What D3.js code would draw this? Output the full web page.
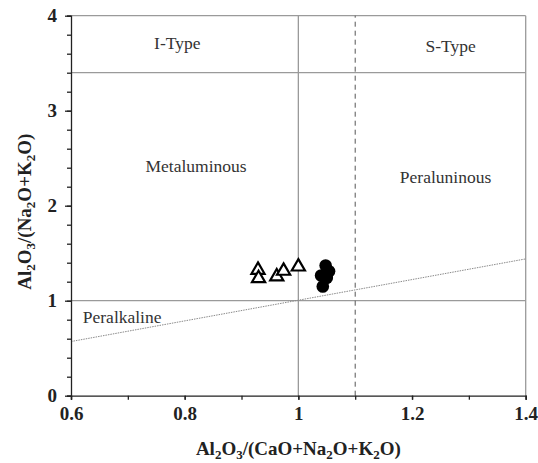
<!DOCTYPE html>
<html>
<head>
<meta charset="utf-8">
<script src="https://cdn.jsdelivr.net/npm/d3@7/dist/d3.min.js"></script>
<style>
  html, body { margin: 0; padding: 0; background: #fff; }
  svg { display: block; }
</style>
</head>
<body>
<svg id="chart" width="538" height="463"></svg>
<script>
// A/CNK vs A/NK discrimination diagram
const xDomain = [0.6, 1.4];
const yDomain = [0, 4];
const xTicks = [0.6, 0.8, 1.0, 1.2, 1.4];
const xMinorTicks = [0.6, 0.7, 0.8, 0.9, 1.0, 1.1, 1.2, 1.3, 1.4];
const yTicks = [0, 1, 2, 3, 4];
const yMinorTicks = [0, 0.2, 0.4, 0.6, 0.8, 1, 1.2, 1.4, 1.6, 1.8, 2, 2.2, 2.4, 2.6, 2.8, 3, 3.2, 3.4, 3.6, 3.8, 4];

// Samples plotted as open triangles
const triangleX = [0.929, 0.930, 0.962, 0.974, 1.000];
const triangleY = [1.323, 1.236, 1.253, 1.313, 1.358];

// Samples plotted as filled circles
const circleX = [1.048, 1.054, 1.040, 1.050, 1.043];
const circleY = [1.370, 1.310, 1.265, 1.240, 1.150];

// Field boundaries
const acnkBoundary = 1.0;     // metaluminous / peraluminous
const isBoundary = 1.1;       // I-type / S-type (dashed)
const ankBoundary = 1.0;      // peralkaline
const typeLine = 3.4;         // header strip line
const diagonalX = [0.6, 1.4];
const diagonalY = [0.57, 1.44];

// Field names
const fieldNames = ["I-Type", "S-Type", "Metaluminous", "Peraluninous", "Peralkaline"];
const fieldX = [0.787, 1.268, 0.82, 1.259, 0.69];
const fieldY = [3.69, 3.66, 2.40, 2.28, 0.81];

const FONT = '"Liberation Serif", "Times New Roman", serif';
const W = 538, H = 463;
const margin = { top: 15.7, right: 12.3, bottom: 67.3, left: 71 };
const svg = d3.select("#chart");

const x = d3.scaleLinear().domain(xDomain).range([margin.left, W - margin.right]);
const y = d3.scaleLinear().domain(yDomain).range([H - margin.bottom, margin.top]);

const grey = "#9a9a9a";

// plot frame: top and right edges
svg.append("line").attr("x1", x(xDomain[0])).attr("x2", x(xDomain[1]))
  .attr("y1", y(yDomain[1])).attr("y2", y(yDomain[1]))
  .attr("stroke", grey).attr("stroke-width", 1.3);
svg.append("line").attr("x1", x(xDomain[1])).attr("x2", x(xDomain[1]))
  .attr("y1", y(yDomain[0])).attr("y2", y(yDomain[1]))
  .attr("stroke", grey).attr("stroke-width", 1.3);

// boundary lines
svg.append("line").attr("x1", x(xDomain[0])).attr("x2", x(xDomain[1]))
  .attr("y1", y(typeLine)).attr("y2", y(typeLine))
  .attr("stroke", grey).attr("stroke-width", 1.3);
svg.append("line").attr("x1", x(xDomain[0])).attr("x2", x(xDomain[1]))
  .attr("y1", y(ankBoundary)).attr("y2", y(ankBoundary))
  .attr("stroke", grey).attr("stroke-width", 1.3);
svg.append("line").attr("x1", x(acnkBoundary)).attr("x2", x(acnkBoundary))
  .attr("y1", y(yDomain[0])).attr("y2", y(yDomain[1]))
  .attr("stroke", grey).attr("stroke-width", 1.3);
svg.append("line").attr("x1", x(isBoundary)).attr("x2", x(isBoundary))
  .attr("y1", y(yDomain[0])).attr("y2", y(yDomain[1]))
  .attr("stroke", "#555").attr("stroke-width", 1).attr("stroke-dasharray", "5,4");

// dotted diagonal
svg.append("line").attr("x1", x(diagonalX[0])).attr("x2", x(diagonalX[1]))
  .attr("y1", y(diagonalY[0])).attr("y2", y(diagonalY[1]))
  .attr("stroke", "#8a8a8a").attr("stroke-width", 1).attr("stroke-dasharray", "1.5,1");

// field labels
svg.append("g").selectAll("text").data(fieldNames).join("text")
  .attr("x", (d, i) => x(fieldX[i])).attr("y", (d, i) => y(fieldY[i]))
  .attr("text-anchor", "middle").attr("dominant-baseline", "middle")
  .style("font-family", FONT)
  .attr("font-size", 17.5).attr("fill", "#333")
  .text(d => d);

// axes
const xAxisMinor = d3.axisBottom(x).tickValues(xMinorTicks).tickSize(4).tickFormat("");
const xAxis = d3.axisBottom(x).tickValues(xTicks).tickSize(4).tickPadding(7)
  .tickFormat(d => d3.format("")(+d.toFixed(1)));
const yAxisMinor = d3.axisLeft(y).tickValues(yMinorTicks).tickSize(4).tickFormat("");
const yAxis = d3.axisLeft(y).tickValues(yTicks).tickSize(6).tickPadding(8).tickFormat(d3.format("d"));

function styleAxis(g) {
  g.select(".domain").attr("stroke", "#222").attr("stroke-width", 1.3);
  g.selectAll(".tick line").attr("stroke", "#222").attr("stroke-width", 1.3);
  g.selectAll("text").style("font-family", FONT)
    .attr("font-weight", "bold").attr("font-size", 19).attr("fill", "#222");
}

svg.append("g").attr("transform", `translate(0,${y(0)})`).call(xAxisMinor).call(styleAxis);
svg.append("g").attr("transform", `translate(0,${y(0)})`).call(xAxis).call(styleAxis)
  .call(g => g.select(".domain").remove());
svg.append("g").attr("transform", `translate(${x(0.6)},0)`).call(yAxisMinor).call(styleAxis);
svg.append("g").attr("transform", `translate(${x(0.6)},0)`).call(yAxis).call(styleAxis)
  .call(g => g.select(".domain").remove());

// axis titles with subscripts
function chemTitle(sel, parts) {
  parts.forEach(p => {
    const ts = sel.append("tspan").text(p.t);
    if (p.sub) ts.attr("font-size", 13).attr("dy", 4);
    else if (p.after) ts.attr("dy", -4);
  });
}
const xTitle = svg.append("text")
  .attr("x", x(1.0)).attr("y", 455).style("font-family", FONT)
  .attr("text-anchor", "middle").attr("font-weight", "bold").attr("font-size", 19).attr("fill", "#222");
chemTitle(xTitle, [
  { t: "Al" }, { t: "2", sub: true }, { t: "O", after: true }, { t: "3", sub: true },
  { t: "/(CaO+Na", after: true }, { t: "2", sub: true }, { t: "O+K", after: true }, { t: "2", sub: true }, { t: "O)", after: true }
]);

const yTitle = svg.append("text")
  .attr("transform", `translate(31,${(y(0) + y(4)) / 2 + 6}) rotate(-90)`).style("font-family", FONT)
  .attr("text-anchor", "middle").attr("font-weight", "bold").attr("font-size", 19).attr("fill", "#222");
chemTitle(yTitle, [
  { t: "Al" }, { t: "2", sub: true }, { t: "O", after: true }, { t: "3", sub: true },
  { t: "/(Na", after: true }, { t: "2", sub: true }, { t: "O+K", after: true }, { t: "2", sub: true }, { t: "O)", after: true }
]);

// data points
const tri = d3.symbol().type(d3.symbolTriangle).size(75);
svg.append("g").selectAll("path").data(triangleX).join("path")
  .attr("d", tri)
  .attr("transform", (d, i) => `translate(${x(d)},${y(triangleY[i])})`)
  .attr("fill", "#fff").attr("stroke", "#000").attr("stroke-width", 2.2);

svg.append("g").selectAll("circle").data(circleX).join("circle")
  .attr("cx", d => x(d)).attr("cy", (d, i) => y(circleY[i]))
  .attr("r", 6.3).attr("fill", "#000");
</script>
</body>
</html>
